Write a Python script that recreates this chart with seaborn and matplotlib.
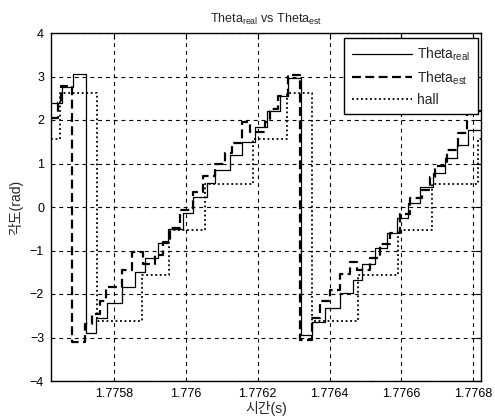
import matplotlib
matplotlib.use("Agg")
import matplotlib.pyplot as plt
import seaborn as sns
import pandas as pd

# Real rotor angle (step samples, rad)
real_t = [1.7756247, 1.7756553, 1.7756859, 1.7757221, 1.7757499, 1.7757805, 1.7758223,
          1.7758584, 1.7758863, 1.7759225, 1.7759503, 1.7759920, 1.7760199, 1.7760588,
          1.7760811, 1.7761228, 1.7761562, 1.7761924, 1.7762258, 1.7762620, 1.7762842,
          1.7763204, 1.7763510, 1.7763872, 1.7764290, 1.7764651, 1.7764902, 1.7765264,
          1.7765598, 1.7765876, 1.7766182, 1.7766516, 1.7766878, 1.7767212, 1.7767546,
          1.7767852, 1.7768214]
real_v = [2.40, 2.75, 3.06, -2.90, -2.55, -2.20, -1.85, -1.50, -1.17, -0.83, -0.50, -0.13,
          0.22, 0.55, 0.86, 1.20, 1.50, 1.85, 2.20, 2.55, 2.97, -2.95, -2.64, -2.32, -1.98,
          -1.68, -1.30, -0.95, -0.60, -0.25, 0.10, 0.45, 0.78, 1.13, 1.43, 1.77, 1.77]

# Estimated rotor angle
est_t = [1.7756247, 1.7756442, 1.7756525, 1.7756831, 1.7757193, 1.7757388, 1.7757610,
         1.7757777, 1.7758223, 1.7758501, 1.7758807, 1.7759141, 1.7759364, 1.7759558,
         1.7759837, 1.7760199, 1.7760477, 1.7760811, 1.7761089, 1.7761284, 1.7761562,
         1.7761785, 1.7762202, 1.7762341, 1.7762564, 1.7762842, 1.7763176, 1.7763510,
         1.7763733, 1.7764011, 1.7764290, 1.7764568, 1.7764763, 1.7765124, 1.7765403,
         1.7765681, 1.7765959, 1.7766238, 1.7766572, 1.7766794, 1.7766933, 1.7767267,
         1.7767574, 1.7767824, 1.7768214]
est_v = [2.05, 2.40, 2.78, -3.10, -2.70, -2.45, -2.15, -1.85, -1.45, -1.03, -1.30, -1.10,
         -0.80, -0.48, -0.07, 0.35, 0.72, 1.00, 1.25, 1.47, 1.95, 1.72, 1.95, 2.25, 2.55,
         3.03, -3.05, -2.55, -2.15, -1.90, -1.55, -1.26, -1.45, -1.18, -0.85, -0.60, -0.15,
         0.20, 0.40, 0.70, 0.95, 1.31, 1.70, 2.20, 2.20]

# Hall-sensor sector angle
hall_t = [1.7756247, 1.7756497, 1.7757527, 1.7758779, 1.7759531, 1.7760533, 1.7761868,
          1.7762815, 1.7763510, 1.7764791, 1.7765904, 1.7766850, 1.7768130, 1.7768214]
hall_v = [1.57, 2.62, -2.62, -1.57, -0.52, 0.52, 1.57, 2.62, -2.62, -1.57, -0.52, 0.52,
          1.57, 1.57]

x_ticks = [1.7758, 1.7760, 1.7762, 1.7764, 1.7766, 1.7768]
x_tick_labels = ["1.7758", "1.776", "1.7762", "1.7764", "1.7766", "1.7768"]
y_ticks = [-4, -3, -2, -1, 0, 1, 2, 3, 4]

sns.set_theme(style="white")
plt.rcParams["font.family"] = ["Liberation Sans", "Noto Sans CJK KR"]
plt.rcParams["mathtext.fontset"] = "custom"
plt.rcParams["mathtext.rm"] = "Liberation Sans"
plt.rcParams["mathtext.it"] = "Liberation Sans"

fig = plt.figure(figsize=(4.95, 4.18), dpi=100)
ax = fig.add_axes([51 / 495, 1 - 381 / 418, 430 / 495, 348 / 418])

df_real = pd.DataFrame({"t": real_t, "v": real_v})
df_est = pd.DataFrame({"t": est_t, "v": est_v})
df_hall = pd.DataFrame({"t": hall_t, "v": hall_v})

sns.lineplot(data=df_real, x="t", y="v", ax=ax, color="black", lw=0.9,
             drawstyle="steps-post", estimator=None, sort=False,
             label=r"Theta$_{\mathrm{real}}$")
sns.lineplot(data=df_est, x="t", y="v", ax=ax, color="black", lw=1.6,
             linestyle=(0, (4, 2)), drawstyle="steps-post", estimator=None, sort=False,
             label=r"Theta$_{\mathrm{est}}$")
sns.lineplot(data=df_hall, x="t", y="v", ax=ax, color="black", lw=1.3,
             linestyle=(0, (1, 1.5)), drawstyle="steps-post", estimator=None, sort=False,
             label="hall")

ax.set_xlim(real_t[0], real_t[-1])
ax.set_ylim(-4, 4)
ax.set_xticks(x_ticks)
ax.set_xticklabels(x_tick_labels)
ax.set_yticks(y_ticks)
ax.tick_params(direction="in", length=4, width=0.8, labelsize=9, colors="black",
               top=True, right=True, pad=5)
ax.grid(True, color="black", linestyle=(0, (3.5, 3.5)), linewidth=0.8)
for s in ax.spines.values():
    s.set_color("black")
    s.set_linewidth(1.0)

ax.set_title(r"Theta$_{\mathrm{real}}$ vs Theta$_{\mathrm{est}}$", fontsize=9, pad=7)
ax.set_xlabel("시간(s)", fontsize=10, labelpad=1)
ax.set_ylabel("각도(rad)", fontsize=10, labelpad=5)

leg = ax.legend(loc="upper right", bbox_to_anchor=(0.993, 0.986), borderaxespad=0,
                fontsize=10, handlelength=4.3, labelspacing=0.45, frameon=True,
                fancybox=False, framealpha=1, borderpad=0.55, handletextpad=0.4)
leg.get_frame().set_edgecolor("black")
leg.get_frame().set_linewidth(1.0)

fig.savefig("out.png", dpi=100)
